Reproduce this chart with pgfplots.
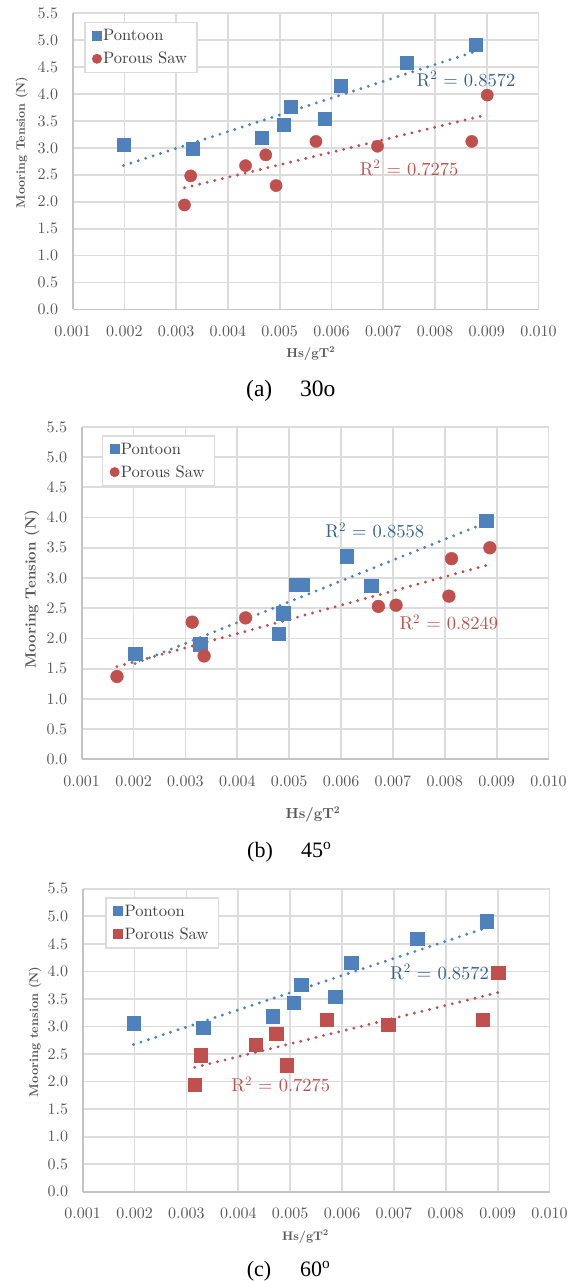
\documentclass[border=0pt]{standalone}
\usepackage{fontspec}
\setmainfont{lmroman10-regular.otf}[BoldFont=lmroman10-bold.otf, ItalicFont=lmroman10-italic.otf, BoldItalicFont=lmroman10-bolditalic.otf]
\usepackage{pgfplots}
\pgfplotsset{compat=1.18}
\newfontfamily\capfont{Liberation Serif}
\definecolor{pblue}{HTML}{4F81BD}
\definecolor{pred}{HTML}{C0504D}
\definecolor{lblue}{HTML}{365F91}
\definecolor{lred}{HTML}{C0504D}
\definecolor{gridc}{HTML}{DCDCDC}
\definecolor{axisc}{HTML}{C4C4C4}
\definecolor{tickc}{HTML}{595959}
\definecolor{legc}{HTML}{404040}

\pgfplotsset{
  panel/.style={
    scale only axis, anchor=south west,
    xmin=0.001, xmax=0.010, ymin=0, ymax=5.5,
    xtick={0.001,0.002,0.003,0.004,0.005,0.006,0.007,0.008,0.009,0.010},
    xticklabels={0.001,0.002,0.003,0.004,0.005,0.006,0.007,0.008,0.009,0.010},
    ytick={0,0.5,1,1.5,2,2.5,3,3.5,4,4.5,5,5.5},
    yticklabels={0.0,0.5,1.0,1.5,2.0,2.5,3.0,3.5,4.0,4.5,5.0,5.5},
    scaled x ticks=false, scaled y ticks=false,
    axis lines=left, axis line style={draw=axisc, line width=1.8pt, -},
    grid=major, major grid style={draw=gridc, line width=1.8pt},
    major tick length=0pt,
    tick label style={font=\fontsize{16}{19}\selectfont, text=tickc, inner sep=0pt},
    xticklabel style={anchor=north, yshift=-16pt},
    yticklabel style={anchor=east, xshift=-14.5pt},
    clip=false,
    legend cell align=left,
    legend style={anchor=north west, draw=gridc, line width=1.5pt, fill=white, text=legc,
      font=\fontsize{16.5}{19}\selectfont, inner xsep=8pt, inner ysep=5pt, row sep=6pt},
  },
  legimg/.style={legend image code/.code={\draw[mark repeat=2,mark phase=2,##1] plot coordinates {(0pt,0pt)(6pt,0pt)(13pt,0pt)};}},
  trend/.style={forget plot, line width=3.2pt, line cap=round, dash pattern=on 0pt off 7.8pt},
}

\begin{document}
\begin{tikzpicture}
\path[use as bounding box] (0pt,0pt) rectangle (571pt,-1281pt);

% ---------------- (a) 30o ----------------
\begin{axis}[panel,
  at={(72.7pt,-309.4pt)}, width=465.8pt, height=296.1pt,
  legend style={at={(0.0243,0.9716)}},
  xlabel={Hs/gT\textsuperscript{2}},
  xlabel style={at={(axis description cs:0.511,0)}, anchor=base, yshift=-47.6pt,
    font=\bfseries\fontsize{13}{15}\selectfont, text=tickc},
  ylabel={Mooring Tension (N)},
  ylabel style={at={(axis description cs:-0.1095,0.5637)}, rotate=0, anchor=center,
    font=\bfseries\fontsize{12.3}{14}\selectfont, text=tickc},
]
\addplot[pblue, only marks, mark=square*, mark size=6.5pt, mark options={fill=pblue}, legimg,
  legend image post style={mark size=4.2pt}] coordinates {
  (0.00198,3.06) (0.00332,2.98) (0.00466,3.19) (0.00507,3.43) (0.00521,3.76)
  (0.00587,3.54) (0.00618,4.16) (0.00745,4.59) (0.00879,4.91)};
\addplot[pred, only marks, mark=*, mark size=6.1pt, mark options={fill=pred}, legimg,
  legend image post style={mark size=4.2pt}] coordinates {
  (0.00316,1.94) (0.00328,2.48) (0.00434,2.67) (0.00473,2.87) (0.00493,2.30)
  (0.00570,3.12) (0.00689,3.03) (0.00871,3.12) (0.00901,3.98)};
\legend{Pontoon, Porous Saw}
\addplot[trend, pblue] coordinates {(0.00198,2.673) (0.00879,4.794)};
\addplot[trend, pred] coordinates {(0.00316,2.258) (0.00901,3.617)};
\node[text=lblue, font=\fontsize{18.5}{21}\selectfont] at (axis cs:0.0086,4.28) {R\textsuperscript{2} = 0.8572};
\node[text=lred, font=\fontsize{18.5}{21}\selectfont] at (axis cs:0.0075,2.63) {R\textsuperscript{2} = 0.7275};
\end{axis}

% ---------------- (b) 45 ----------------
\begin{axis}[panel,
  at={(81.7pt,-759.3pt)}, width=466.8pt, height=332.4pt,
  legend style={at={(0.0428,0.9756)}},
  xlabel={Hs/gT\textsuperscript{2}},
  xlabel style={at={(axis description cs:0.4955,0)}, anchor=base, yshift=-59pt,
    font=\bfseries\fontsize{14.6}{17}\selectfont, text=tickc},
  ylabel={Mooring Tension (N)},
  ylabel style={at={(axis description cs:-0.1065,0.5123)}, rotate=0, anchor=center,
    font=\bfseries\fontsize{14.8}{17}\selectfont, text=tickc},
]
\addplot[pblue, only marks, mark=square*, mark size=6.8pt, mark options={fill=pblue}, legimg,
  legend image post style={mark size=4.2pt}] coordinates {
  (0.00203,1.75) (0.00329,1.90) (0.00480,2.08) (0.00489,2.42) (0.00514,2.89)
  (0.00525,2.89) (0.00611,3.36) (0.00658,2.87) (0.00880,3.95)};
\addplot[pred, only marks, mark=*, mark size=6.4pt, mark options={fill=pred}, legimg,
  legend image post style={mark size=4.2pt}] coordinates {
  (0.00168,1.37) (0.00313,2.27) (0.00336,1.71) (0.00416,2.34) (0.00672,2.53)
  (0.00706,2.55) (0.00808,2.70) (0.00813,3.32) (0.00887,3.50)};
\legend{Pontoon, Porous Saw}
\addplot[trend, pblue] coordinates {(0.00203,1.584) (0.00880,3.915)};
\addplot[trend, pred] coordinates {(0.00168,1.534) (0.00887,3.225)};
\node[text=lblue, font=\fontsize{18.5}{21}\selectfont] at (axis cs:0.00665,3.79) {R\textsuperscript{2} = 0.8558};
\node[text=lred, font=\fontsize{18.5}{21}\selectfont] at (axis cs:0.00808,2.26) {R\textsuperscript{2} = 0.8249};
\end{axis}

% ---------------- (c) 60 ----------------
\begin{axis}[panel,
  at={(82.7pt,-1191.7pt)}, width=466.8pt, height=302.9pt,
  legend style={at={(0.0488,0.972)}},
  xlabel={Hs/gT\textsuperscript{2}},
  xlabel style={at={(axis description cs:0.477,0)}, anchor=base, yshift=-48.3pt,
    font=\bfseries\fontsize{12.4}{15}\selectfont, text=tickc},
  ylabel={Mooring tension (N)},
  ylabel style={at={(axis description cs:-0.1022,0.528)}, rotate=0, anchor=center,
    font=\bfseries\fontsize{12.5}{15}\selectfont, text=tickc},
]
\addplot[pblue, only marks, mark=square*, mark size=6.7pt, mark options={fill=pblue}, legimg,
  legend image post style={mark size=4.2pt}] coordinates {
  (0.00198,3.06) (0.00332,2.98) (0.00466,3.19) (0.00507,3.43) (0.00521,3.76)
  (0.00587,3.54) (0.00618,4.16) (0.00745,4.59) (0.00879,4.91)};
\addplot[pred, only marks, mark=square*, mark size=6.7pt, mark options={fill=pred}, legimg,
  legend image post style={mark size=4.2pt}] coordinates {
  (0.00316,1.94) (0.00328,2.48) (0.00434,2.67) (0.00473,2.87) (0.00493,2.30)
  (0.00570,3.12) (0.00689,3.03) (0.00871,3.12) (0.00901,3.98)};
\legend{Pontoon, Porous Saw}
\addplot[trend, pblue] coordinates {(0.00198,2.673) (0.00879,4.794)};
\addplot[trend, pred] coordinates {(0.00316,2.258) (0.00901,3.617)};
\node[text=lblue, font=\fontsize{18.5}{21}\selectfont] at (axis cs:0.00788,3.99) {R\textsuperscript{2} = 0.8572};
\node[text=lred, font=\fontsize{18.5}{21}\selectfont] at (axis cs:0.00482,1.95) {R\textsuperscript{2} = 0.7275};
\end{axis}

% ---------------- captions ----------------
\node[anchor=base west, inner sep=0pt, font=\capfont\fontsize{23.5}{26}\selectfont] at (246pt,-396pt) {(a)};
\node[anchor=base west, inner sep=0pt, font=\capfont\fontsize{23.5}{26}\selectfont] at (300pt,-396pt) {30o};
\node[anchor=base west, inner sep=0pt, font=\capfont\fontsize{22}{24}\selectfont] at (247pt,-857pt) {(b)};
\node[anchor=base west, inner sep=0pt, font=\capfont\fontsize{22}{24}\selectfont] at (301pt,-857pt) {45\textsuperscript{o}};
\node[anchor=base west, inner sep=0pt, font=\capfont\fontsize{22}{24}\selectfont] at (246.7pt,-1276pt) {(c)};
\node[anchor=base west, inner sep=0pt, font=\capfont\fontsize{22}{24}\selectfont] at (300pt,-1276pt) {60\textsuperscript{o}};
\end{tikzpicture}
\end{document}
